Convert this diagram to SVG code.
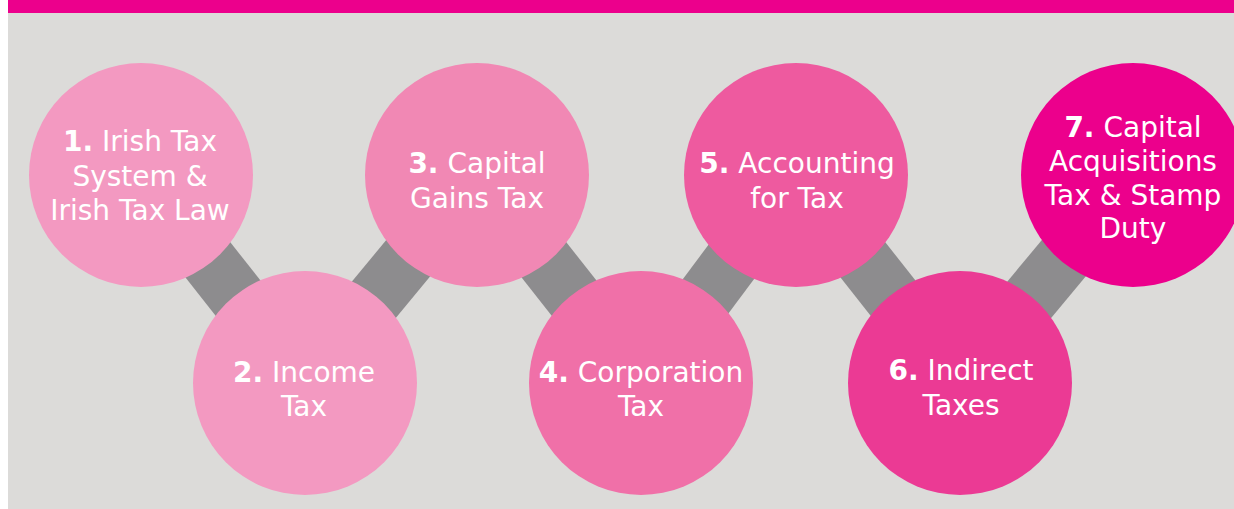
<svg xmlns="http://www.w3.org/2000/svg" width="1234" height="509" viewBox="0 0 1234 509">
<style>
.bar{stroke:#8d8c8e;stroke-width:57;stroke-linecap:butt}
.lbl{font-family:"DejaVu Sans","Liberation Sans",sans-serif;font-size:28px;fill:#ffffff;text-anchor:middle}
.num{font-weight:bold}
</style>
<rect x="0" y="0" width="1234" height="509" fill="#ffffff"/>
<rect x="8" y="0" width="1226" height="509" fill="#dcdbd9"/>
<rect x="8" y="0" width="1226" height="13" fill="#ec008c"/>
<g id="connectors">
<line class="bar" x1="141" y1="175" x2="305" y2="383"/>
<line class="bar" x1="305" y1="383" x2="477" y2="175"/>
<line class="bar" x1="477" y1="175" x2="641" y2="383"/>
<line class="bar" x1="641" y1="383" x2="796" y2="175"/>
<line class="bar" x1="796" y1="175" x2="960" y2="383"/>
<line class="bar" x1="960" y1="383" x2="1133" y2="175"/>
</g>
<g id="node1">
<circle cx="141" cy="175" r="112" fill="#f399c1"/>
<text class="lbl" x="140" y="151"><tspan class="num">1.</tspan> Irish Tax</text>
<text class="lbl" x="140" y="186">System &amp;</text>
<text class="lbl" x="140" y="220">Irish Tax Law</text>
</g>
<g id="node2">
<circle cx="305" cy="383" r="112" fill="#f399c1"/>
<text class="lbl" x="304" y="382"><tspan class="num">2.</tspan> Income</text>
<text class="lbl" x="304" y="416">Tax</text>
</g>
<g id="node3">
<circle cx="477" cy="175" r="112" fill="#f188b4"/>
<text class="lbl" x="477" y="173"><tspan class="num">3.</tspan> Capital</text>
<text class="lbl" x="477" y="208">Gains Tax</text>
</g>
<g id="node4">
<circle cx="641" cy="383" r="112" fill="#f070a8"/>
<text class="lbl" x="641" y="382"><tspan class="num">4.</tspan> Corporation</text>
<text class="lbl" x="641" y="416">Tax</text>
</g>
<g id="node5">
<circle cx="796" cy="175" r="112" fill="#ee5a9f"/>
<text class="lbl" x="797" y="173"><tspan class="num">5.</tspan> Accounting</text>
<text class="lbl" x="797" y="208">for Tax</text>
</g>
<g id="node6">
<circle cx="960" cy="383" r="112" fill="#eb3a94"/>
<text class="lbl" x="961" y="380"><tspan class="num">6.</tspan> Indirect</text>
<text class="lbl" x="961" y="415">Taxes</text>
</g>
<g id="node7">
<circle cx="1133" cy="175" r="112" fill="#ec008c"/>
<text class="lbl" x="1133" y="137"><tspan class="num">7.</tspan> Capital</text>
<text class="lbl" x="1133" y="171">Acquisitions</text>
<text class="lbl" x="1133" y="205">Tax &amp; Stamp</text>
<text class="lbl" x="1133" y="238">Duty</text>
</g>
</svg>
